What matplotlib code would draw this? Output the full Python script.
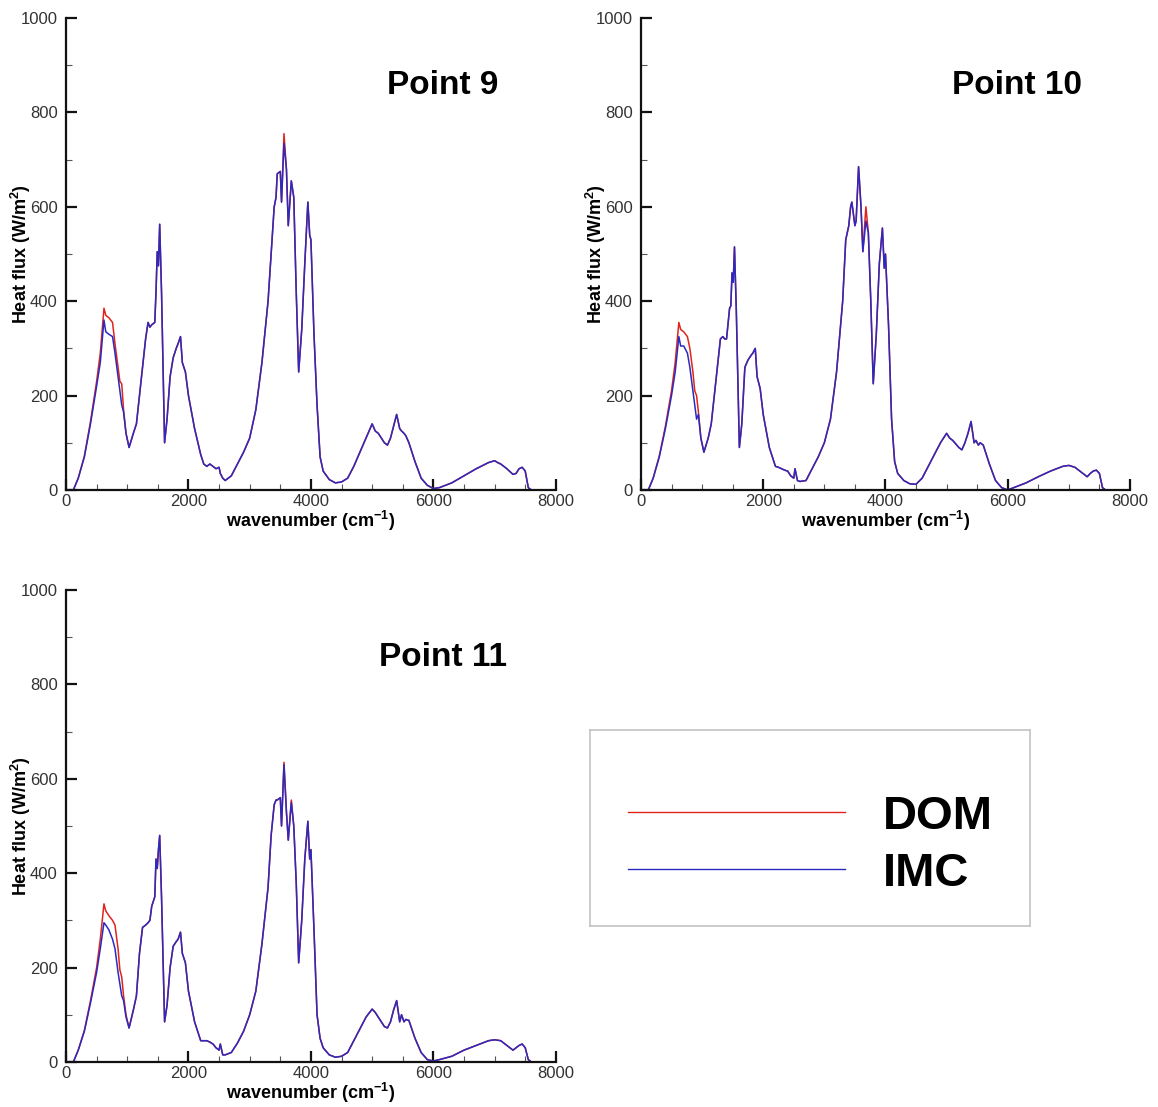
import matplotlib
matplotlib.use('Agg')
import matplotlib.pyplot as plt
import matplotlib.ticker as ticker
from matplotlib.lines import Line2D

plt.rcParams['font.family'] = ['Liberation Sans', 'DejaVu Sans']
plt.rcParams['mathtext.fontset'] = 'custom'
plt.rcParams['mathtext.rm'] = 'Liberation Sans'
plt.rcParams['mathtext.bf'] = 'Liberation Sans:bold'

# ==========================================
# DATOS
# ==========================================

WAVENUMBER = [
    120, 200, 300, 400, 500, 560, 620, 650, 700, 760,
    800, 850, 880, 910, 940, 980, 1030, 1100, 1150, 1200,
    1250, 1300, 1340, 1370, 1400, 1450, 1470, 1490, 1510, 1530,
    1560, 1610, 1650, 1700, 1750, 1800, 1830, 1870, 1900, 1950,
    2000, 2100, 2200, 2250, 2300, 2350, 2400, 2450, 2500, 2520,
    2560, 2600, 2700, 2800, 2900, 3000, 3100, 3200, 3300, 3350,
    3400, 3430, 3450, 3500, 3520, 3560, 3600, 3630, 3680, 3720,
    3760, 3800, 3850, 3900, 3950, 3980, 4000, 4050, 4100, 4150,
    4200, 4300, 4400, 4500, 4600, 4700, 4800, 4900, 5000, 5050,
    5100, 5200, 5250, 5300, 5350, 5400, 5450, 5480, 5520, 5550,
    5600, 5700, 5800, 5900, 6000, 6100, 6300, 6500, 6700, 6900,
    7000, 7050, 7100, 7200, 7300, 7350, 7400, 7450, 7500, 7550,
    7600, 8000,
]

# Point 9
IMC_P9 = [
    0, 25, 70, 140, 220, 270, 360, 335, 330, 325,
    290, 240, 210, 180, 165, 120, 90, 120, 140, 200,
    260, 320, 355, 345, 350, 355, 420, 505, 475, 563,
    420, 100, 150, 240, 280, 300, 310, 325, 270, 250,
    200, 130, 75, 55, 50, 55, 50, 45, 48, 35,
    25, 20, 30, 55, 80, 110, 170, 270, 400, 500,
    600, 620, 670, 675, 610, 735, 680, 560, 655, 620,
    420, 250, 340, 480, 610, 540, 530, 330, 180, 70,
    40, 22, 15, 17, 25, 50, 80, 110, 140, 125,
    120, 100, 95, 110, 135, 160, 130, 125, 120, 115,
    100, 60, 25, 10, 3, 5, 15, 30, 45, 58,
    62, 58, 55, 45, 33, 35, 45, 48, 40, 5,
    0, 0,
]
DOM_P9 = [
    0, 25, 72, 145, 230, 290, 385, 370, 365, 355,
    310, 260, 230, 225, 170, 120, 90, 120, 140, 200,
    260, 320, 355, 345, 350, 355, 420, 505, 475, 563,
    420, 100, 150, 240, 280, 300, 310, 325, 270, 250,
    200, 130, 75, 55, 50, 55, 50, 45, 48, 35,
    25, 20, 30, 55, 80, 110, 170, 270, 400, 500,
    600, 620, 670, 675, 610, 755, 680, 560, 655, 620,
    420, 250, 340, 480, 610, 540, 530, 330, 180, 70,
    40, 22, 15, 17, 25, 50, 80, 110, 140, 125,
    120, 100, 95, 110, 135, 160, 130, 125, 120, 115,
    100, 60, 25, 10, 3, 5, 15, 30, 45, 58,
    62, 58, 55, 45, 33, 35, 45, 48, 40, 5,
    0, 0,
]

# Point 10
IMC_P10 = [
    0, 25, 70, 130, 200, 250, 325, 305, 305, 290,
    260, 210, 180, 150, 160, 110, 80, 110, 140, 200,
    260, 320, 325, 320, 320, 385, 390, 460, 440, 515,
    380, 90, 140, 260, 275, 285, 290, 300, 240, 215,
    160, 90, 50, 48, 45, 42, 40, 30, 25, 45,
    20, 18, 20, 45, 70, 100, 150, 250, 400, 530,
    560, 600, 610, 560, 570, 685, 600, 505, 570, 545,
    400, 225, 330, 480, 555, 470, 500, 350, 150, 60,
    35, 20, 13, 12, 25, 50, 75, 100, 120, 110,
    105, 90, 85, 100, 120, 145, 100, 105, 95, 100,
    95, 55, 20, 5, 0, 5, 15, 28, 40, 50,
    52, 50, 48, 38, 28, 35, 40, 42, 35, 5,
    0, 0,
]
DOM_P10 = [
    0, 25, 72, 135, 210, 270, 355, 340, 335, 325,
    300, 250, 210, 200, 165, 110, 80, 110, 140, 200,
    260, 320, 325, 320, 320, 385, 390, 460, 440, 515,
    380, 90, 140, 260, 275, 285, 290, 300, 240, 215,
    160, 90, 50, 48, 45, 42, 40, 30, 25, 45,
    20, 18, 20, 45, 70, 100, 150, 250, 400, 530,
    560, 600, 610, 560, 570, 685, 600, 505, 600, 545,
    400, 225, 330, 480, 555, 470, 500, 350, 150, 60,
    35, 20, 13, 12, 25, 50, 75, 100, 120, 110,
    105, 90, 85, 100, 120, 145, 100, 105, 95, 100,
    95, 55, 20, 5, 0, 5, 15, 28, 40, 50,
    52, 50, 48, 38, 28, 35, 40, 42, 35, 5,
    0, 0,
]

# Point 11
IMC_P11 = [
    0, 25, 65, 125, 190, 240, 295, 290, 280, 260,
    240, 190, 165, 140, 130, 95, 72, 110, 140, 230,
    285, 290, 295, 300, 330, 350, 430, 410, 450, 480,
    350, 85, 120, 200, 245, 255, 260, 275, 230, 210,
    150, 85, 45, 45, 45, 42, 38, 30, 25, 38,
    15, 15, 20, 40, 65, 100, 150, 250, 370, 480,
    545, 555, 555, 560, 500, 630, 530, 470, 550, 500,
    380, 210, 300, 430, 510, 430, 450, 280, 100, 50,
    30, 15, 10, 12, 20, 45, 70, 95, 112, 105,
    95, 75, 72, 85, 110, 130, 85, 100, 85, 90,
    88, 50, 20, 5, 2, 5, 12, 25, 35, 45,
    47, 46, 45, 35, 25, 30, 35, 38, 30, 5,
    0, 0,
]
DOM_P11 = [
    0, 25, 67, 130, 200, 260, 335, 320, 310, 300,
    290, 240, 195, 180, 140, 100, 72, 110, 140, 230,
    285, 290, 295, 300, 330, 350, 430, 410, 450, 480,
    350, 85, 120, 200, 245, 255, 260, 275, 230, 210,
    150, 85, 45, 45, 45, 42, 38, 30, 25, 38,
    15, 15, 20, 40, 65, 100, 150, 250, 370, 480,
    545, 555, 555, 560, 500, 635, 530, 470, 555, 500,
    380, 210, 300, 430, 510, 430, 450, 280, 100, 50,
    30, 15, 10, 12, 20, 45, 70, 95, 112, 105,
    95, 75, 72, 85, 110, 130, 85, 100, 85, 90,
    88, 50, 20, 5, 2, 5, 12, 25, 35, 45,
    47, 46, 45, 35, 25, 30, 35, 38, 30, 5,
    0, 0,
]

PANEL_TITLES = ['Point 9', 'Point 10', 'Point 11']
SERIES_NAMES = ['DOM', 'IMC']

COLOR_DOM = '#e0241c'
COLOR_IMC = '#2a2ac0'

# posiciones de los ejes (fracción de figura)
PANEL_RECTS = [
    [0.057, 0.5574, 0.423, 0.4263],
    [0.5535, 0.5574, 0.4223, 0.4263],
    [0.057, 0.0407, 0.423, 0.4263],
]


def dibujar_panel(ax, dom, imc, titulo):
    ax.plot(WAVENUMBER, dom, color=COLOR_DOM, lw=1.1, label=SERIES_NAMES[0])
    ax.plot(WAVENUMBER, imc, color=COLOR_IMC, lw=1.1, label=SERIES_NAMES[1])

    ax.set_xlim(0, 8000)
    ax.set_ylim(0, 1000)
    ax.xaxis.set_major_locator(ticker.MultipleLocator(2000))
    ax.xaxis.set_minor_locator(ticker.MultipleLocator(500))
    ax.yaxis.set_major_locator(ticker.MultipleLocator(200))
    ax.yaxis.set_minor_locator(ticker.MultipleLocator(100))

    ax.spines[['top', 'right']].set_visible(False)
    for s in ['left', 'bottom']:
        ax.spines[s].set_linewidth(1.6)
        ax.spines[s].set_color('#111111')

    ax.tick_params(which='major', direction='in', length=8, width=1.6,
                   labelsize=12, colors='#111111', labelcolor='#333333')
    ax.tick_params(axis='y', which='major', pad=6)
    ax.tick_params(axis='x', which='major', pad=3)
    ax.tick_params(which='minor', direction='in', length=4, width=0.8,
                   colors='#555555')

    ax.set_xlabel(r'wavenumber (cm$^{\mathbf{-1}}$)', fontsize=13,
                  fontweight='bold', labelpad=0)
    ax.set_ylabel(r'Heat flux (W/m$^{\mathbf{2}}$)', fontsize=13,
                  fontweight='bold')
    ax.yaxis.set_label_coords(-0.068, 0.5)

    ax.text(6150, 857, titulo, ha='center', va='center', fontsize=24,
            fontweight='bold', color='black')


fig = plt.figure(figsize=(11.58, 11.07), dpi=100)

datos = [(DOM_P9, IMC_P9), (DOM_P10, IMC_P10), (DOM_P11, IMC_P11)]
ejes = []
for rect, (dom, imc), titulo in zip(PANEL_RECTS, datos, PANEL_TITLES):
    ax = fig.add_axes(rect)
    dibujar_panel(ax, dom, imc, titulo)
    ejes.append(ax)

# ── Caja de leyenda ─────────────────────────────────────────────
leg_ax = fig.add_axes([0.5095, 0.1635, 0.38, 0.177])
leg_ax.set_xticks([])
leg_ax.set_yticks([])
for s in leg_ax.spines.values():
    s.set_color('#c4c4c4')
    s.set_linewidth(1.2)

handles = [
    Line2D([], [], color=COLOR_DOM, lw=1.0),
    Line2D([], [], color=COLOR_IMC, lw=1.0),
]
leg_ax.legend(
    handles, SERIES_NAMES,
    loc='center',
    bbox_to_anchor=(0.5, 0.412),
    frameon=False,
    prop={'size': 34, 'weight': 'bold'},
    handlelength=4.6,
    handletextpad=0.8,
    labelspacing=0.27,
)

fig.savefig('out.png', dpi=100)
